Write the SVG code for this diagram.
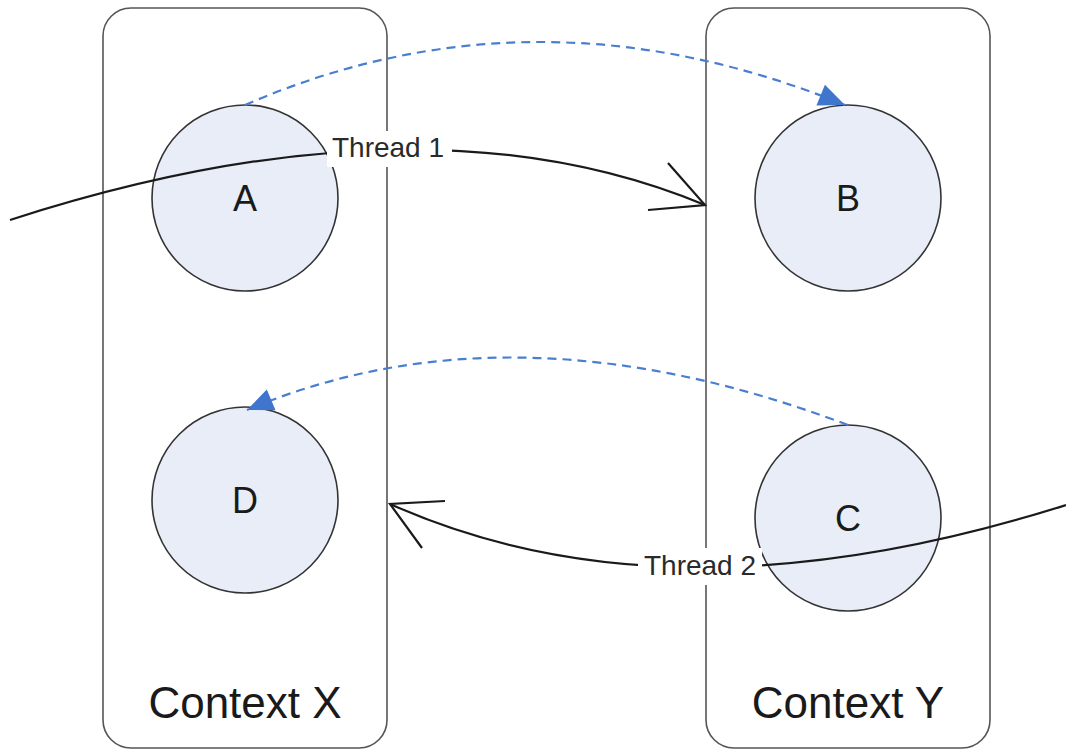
<svg xmlns="http://www.w3.org/2000/svg" width="1066" height="751" viewBox="0 0 1066 751">
<style>
.ctx{fill:#ffffff;stroke:#555555;stroke-width:1.6}
.node{fill:#e8edf7;stroke:#333333;stroke-width:1.6}
.lbl{font-family:"Liberation Sans",Arial,sans-serif;fill:#1a1a1a;text-anchor:middle}
.big{font-size:44px}
.mid{font-size:36px}
.thr{font-size:28px;fill:#2a2a2a}
.flow{fill:none;stroke:#1a1a1a;stroke-width:2.2}
.dash{fill:none;stroke:#4a7fd0;stroke-width:2.2;stroke-dasharray:9 6}
.bg{fill:#ffffff}
</style>
<defs>
<marker id="blue" markerUnits="userSpaceOnUse" markerWidth="30" markerHeight="30" viewBox="-22 -10 24 20" refX="0" refY="0" orient="auto">
<path d="M0,0 L-21,-9 L-21,9 Z" fill="#3f75cc"/>
</marker>
</defs>
<g id="contextX">
<rect class="ctx" x="103" y="8" width="284" height="740" rx="28"/>
<text class="lbl big" x="245" y="718">Context X</text>
</g>
<g id="contextY">
<rect class="ctx" x="706" y="8" width="284" height="740" rx="28"/>
<text class="lbl big" x="848" y="718">Context Y</text>
</g>
<g id="A">
<circle class="node" cx="245" cy="198" r="93"/>
<text class="lbl mid" x="245" y="211">A</text>
</g>
<g id="B">
<circle class="node" cx="848" cy="198" r="93"/>
<text class="lbl mid" x="848" y="211">B</text>
</g>
<g id="D">
<circle class="node" cx="245" cy="500" r="93"/>
<text class="lbl mid" x="245" y="513">D</text>
</g>
<g id="C">
<circle class="node" cx="848" cy="518" r="93"/>
<text class="lbl mid" x="848" y="531">C</text>
</g>
<g id="connectors">
<path class="dash" d="M245,105 Q535,-21 845,105" marker-end="url(#blue)"/>
<path class="dash" d="M848,425 Q512,298 247,410" marker-end="url(#blue)"/>
<path class="flow" d="M10,220 Q422,87 705,205"/>
<path class="flow" d="M668,163 L705,205 L648,210"/>
<path class="flow" d="M1066,505 Q672,630 390,504"/>
<path class="flow" d="M445,501 L390,504 L422,548"/>
<rect class="bg" x="327" y="131" width="125" height="36"/>
<text class="lbl thr" x="388" y="157">Thread 1</text>
<rect class="bg" x="638" y="548" width="124" height="37"/>
<text class="lbl thr" x="700" y="575">Thread 2</text>
</g>
</svg>
